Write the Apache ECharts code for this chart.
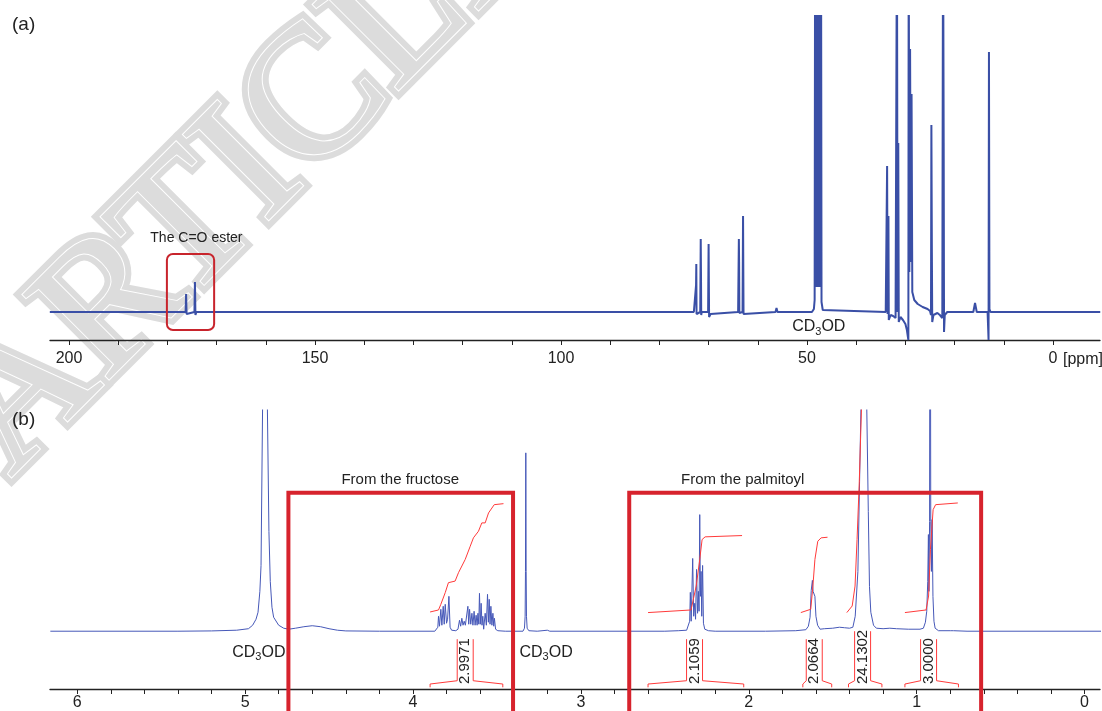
<!DOCTYPE html>
<html>
<head>
<meta charset="utf-8">
<script src="https://cdn.jsdelivr.net/npm/echarts@6.0.0/dist/echarts.min.js"></script>
<style>
  html, body { margin: 0; padding: 0; background: #fff; }
  #chart { width: 1102px; height: 711px; }
</style>
</head>
<body>
<div id="chart"></div>
<script>
// (a) 13C spectrum, [ppm, height above baseline]
const carbonSpectrum = [
  [203.9, 0], [180, 0], [176.3, 0], [176.2, 18], [176.1, -2], [175.9, 0],
  [174.5, 0], [174.4, 30], [174.3, -3], [174.1, 0],
  [100, 0], [73, 0], [72.6, 0], [72.55, 27], [72.5, 48], [72.45, -2], [72.3, 0],
  [71.7, 0], [71.6, 73], [71.55, 40], [71.5, -3], [71.4, 0],
  [70.1, 0], [70.0, 68], [69.9, -5], [69.6, -2], [69.3, 0],
  [64.0, 0], [63.85, 73], [63.8, 50], [63.75, -1], [63.1, 0], [63.0, 96], [62.9, -2], [62.7, 0],
  [56.4, 0], [56.2, 4], [56.0, 0],
  [49.0, 0], [48.6, 3], [48.45, 12], [48.35, 400], [48.25, 25], [48.15, 400], [48.05, 25], [47.95, 400],
  [47.85, 25], [47.75, 400], [47.65, 25], [47.55, 400], [47.45, 25], [47.35, 400], [47.25, 25],
  [47.15, 400], [47.05, 10], [46.8, 2], [46.5, 0],
  [34.0, 0], [33.8, -1], [33.72, 146], [33.62, -2], [33.5, 0], [33.45, 96], [33.38, -8],
  [33.0, -3], [32.5, -4], [32.0, -6], [31.8, -8], [31.72, 400], [31.6, 0], [31.45, 169], [31.35, -10],
  [31.0, -5], [30.5, -8], [30.0, -12], [29.7, -18], [29.4, -28], [29.33, 400], [29.2, 40],
  [29.05, 263], [28.9, 50], [28.75, 218], [28.6, 20], [28.2, 12], [27.5, 8], [26.5, 5], [25.5, 3],
  [25.0, 1], [24.8, -3], [24.72, 187], [24.62, 59], [24.55, -10], [24.3, -3], [23.5, -1],
  [23.0, -3], [22.5, -6], [22.35, 400], [22.22, 169], [22.15, -20], [22.0, -3], [21.5, 0],
  [16.2, 0], [15.85, 9], [15.5, 0],
  [13.3, 0], [13.1, -28], [13.02, 260], [12.92, 3], [12.7, 0], [-9.6, 0]
];

// (b) 1H spectrum, [ppm, height above baseline]
const protonSpectrum = [
  [6.16, 0], [5.40, 0], [5.20, 0.3], [5.05, 1], [4.98, 2.5], [4.955, 6], [4.935, 12], [4.923, 19],
  [4.912, 40], [4.905, 66], [4.896, 222], [4.882, 600], [4.867, 222], [4.858, 100], [4.850, 50],
  [4.840, 24], [4.830, 14], [4.800, 6], [4.770, 3], [4.740, 2], [4.700, 3], [4.650, 4.5],
  [4.600, 5.5], [4.550, 4.5], [4.500, 2.5], [4.450, 1], [4.400, 0.3], [4.200, 0], [3.870, 0],
  [3.862, 1], [3.852, 4], [3.848, 15], [3.842, 5], [3.834, 22], [3.828, 6], [3.820, 25], [3.814, 7],
  [3.808, 27], [3.800, 8], [3.794, 12], [3.786, 35], [3.779, 4], [3.770, 1], [3.745, 0.5],
  [3.732, 2], [3.723, 11], [3.716, 5], [3.709, 13], [3.702, 6], [3.695, 10], [3.688, 6], [3.680, 8],
  [3.673, 25], [3.668, 7], [3.663, 22], [3.656, 7], [3.649, 18], [3.643, 6], [3.636, 20], [3.630, 6],
  [3.624, 16], [3.618, 6], [3.613, 18], [3.608, 7],
  [3.604, 38], [3.599, 7], [3.594, 28], [3.589, 6], [3.584, 15], [3.579, 2], [3.575, 3],
  [3.570, 18], [3.563, 6], [3.556, 37], [3.551, 9], [3.546, 32], [3.541, 7], [3.536, 25], [3.530, 6],
  [3.524, 18], [3.519, 5], [3.515, 13], [3.508, 2], [3.495, 0.5], [3.45, 0],
  [3.345, 0], [3.336, 3], [3.332, 15], [3.330, 60], [3.328, 179], [3.326, 60], [3.324, 15],
  [3.320, 3], [3.310, 0.5], [3.260, 0], [3.200, 1], [3.185, 0],
  [2.500, 0], [2.420, 0.5], [2.370, 1], [2.360, 3], [2.352, 10], [2.348, 39], [2.343, 10],
  [2.334, 73], [2.328, 15], [2.322, 28], [2.317, 12], [2.311, 62], [2.305, 18], [2.300, 40],
  [2.296, 20], [2.292, 117], [2.288, 35], [2.284, 60], [2.280, 15], [2.275, 66], [2.270, 8],
  [2.262, 2], [2.240, 0.5], [2.200, 0], [1.900, 0], [1.720, 0.5], [1.660, 1.5], [1.645, 5],
  [1.635, 14], [1.628, 41], [1.621, 51], [1.617, 40], [1.612, 38], [1.606, 35], [1.600, 15],
  [1.590, 6], [1.575, 2], [1.550, 2.5], [1.500, 3], [1.460, 4], [1.430, 3.5], [1.400, 3],
  [1.380, 4], [1.366, 15], [1.350, 60], [1.340, 150], [1.332, 222], [1.315, 700], [1.297, 222],
  [1.288, 120], [1.281, 45], [1.273, 19], [1.257, 6], [1.240, 3], [1.200, 2.5], [1.160, 3],
  [1.120, 2.5], [1.050, 2], [0.980, 2], [0.960, 3], [0.948, 9], [0.940, 20], [0.934, 50],
  [0.930, 97], [0.927, 40], [0.923, 110], [0.920, 600], [0.916, 110], [0.912, 60], [0.908, 112],
  [0.903, 35], [0.897, 10], [0.890, 3], [0.870, 0.5], [0.800, 0.5], [0.790, 2], [0.780, 0.5],
  [0.700, 0], [-0.10, 0]
];

// integral curves (red)
const intFructose = [[3.898, 19.3], [3.848, 21.3], [3.834, 27], [3.808, 38.7], [3.789, 48.7], [3.749, 50.3],
  [3.729, 58.7], [3.689, 72], [3.659, 85.3], [3.640, 93.7], [3.610, 100.3], [3.590, 108.7],
  [3.570, 108.7], [3.550, 118.7], [3.516, 127], [3.461, 128]];
const intCH2CO = [[2.600, 18.7], [2.344, 21.3], [2.313, 45.3], [2.292, 72], [2.278, 92], [2.260, 94.7], [2.040, 96]];
const intCH2b = [[1.690, 18.7], [1.631, 22], [1.618, 45.3], [1.606, 72], [1.589, 90.3], [1.569, 93.7], [1.531, 94.3]];
const intChain = [[1.416, 18.7], [1.384, 25.3], [1.367, 45.3], [1.355, 92], [1.342, 148.7], [1.329, 222], [1.310, 400]];
const intMethyl = [[1.070, 18.7], [0.944, 21.3], [0.929, 35.3], [0.918, 82], [0.902, 122], [0.887, 127], [0.755, 128.7]];

const integralValues = ['2.9971', '2.1059', '2.0664', '24.1302', '3.0000'];
const integralRanges = [[3.898, 3.465], [2.600, 2.030], [1.678, 1.506], [1.406, 1.207], [1.070, 0.751]];
const integralLabelAt = [3.689, 2.323, 1.610, 1.322, 0.929];

// axes
const carbonTicks = [0, 10, 20, 30, 40, 50, 60, 70, 80, 90, 100, 110, 120, 130, 140, 150, 160, 170, 180, 190, 200];
const carbonLabels = [200, 150, 100, 50, 0];
const protonTicks = [0, 0.2, 0.4, 0.6, 0.8, 1, 1.2, 1.4, 1.6, 1.8, 2, 2.2, 2.4, 2.6, 2.8, 3, 3.2, 3.4, 3.6,
  3.8, 4, 4.2, 4.4, 4.6, 4.8, 5, 5.2, 5.4, 5.6, 5.8, 6];
const protonLabels = [6, 5, 4, 3, 2, 1, 0];

// highlighted regions
const esterBox = [180.1, 170.5];
const fructoseBox = [4.742, 3.404];
const palmitoylBox = [2.712, 0.616];

const FONT = '"Liberation Sans", Arial, sans-serif';
const BLUE = '#3a4fa6';
const RED = '#d7232d';
const IRED = '#ff3a3a';

const chart = echarts.init(document.getElementById('chart'));

function axisX(gridIndex, min, max, ticks, labels, margin) {
  return {
    type: 'value', gridIndex: gridIndex, inverse: true, min: min, max: max,
    axisLine: { onZero: false, lineStyle: { color: '#222', width: 1.3 } },
    axisTick: { show: true, inside: false, length: 5, customValues: ticks, lineStyle: { color: '#222' } },
    axisLabel: { customValues: labels, margin: margin, color: '#222', fontSize: 16, fontFamily: FONT,
      formatter: v => String(v) },
    splitLine: { show: false }
  };
}

const brackets = [];
integralValues.forEach((val, i) => {
  const r = integralRanges[i], c = integralLabelAt[i], g = 0.0476;
  const top = -56 + 8 * val.length;
  brackets.push({
    type: 'line', xAxisIndex: 1, yAxisIndex: 1, clip: false, showSymbol: false, silent: true,
    lineStyle: { color: IRED, width: 1 },
    data: [[r[0], -56.3], [r[0], -53], [c + g, -49.7], [c + g, top]]
  });
  brackets.push({
    type: 'line', xAxisIndex: 1, yAxisIndex: 1, clip: false, showSymbol: false, silent: true,
    lineStyle: { color: IRED, width: 1 },
    data: [[c - g, top], [c - g, -49.7], [r[1], -53], [r[1], -56.3]]
  });
});

function integralSeries(curve) {
  return { type: 'line', xAxisIndex: 1, yAxisIndex: 1, showSymbol: false, silent: true,
    lineStyle: { color: IRED, width: 1 }, data: curve, z: 3 };
}
function boxSeries(b) {
  return { type: 'line', xAxisIndex: 1, yAxisIndex: 1, clip: false, showSymbol: false, silent: true,
    lineStyle: { color: RED, width: 4, join: 'miter', cap: 'butt' }, z: 4,
    data: [[b[0], -90], [b[0], 139], [b[1], 139], [b[1], -90]] };
}

const option = {
  animation: false,
  backgroundColor: '#fff',
  grid: [
    { left: 50, right: 2, top: 16, height: 324 },
    { left: 50, right: 2, top: 410, height: 280 }
  ],
  xAxis: [
    axisX(0, -9.55, 203.86, carbonTicks, carbonLabels, 11),
    axisX(1, -0.092, 6.162, protonTicks, protonLabels, 6)
  ],
  yAxis: [
    { type: 'value', gridIndex: 0, min: -28, max: 296, show: false },
    { type: 'value', gridIndex: 1, min: -58, max: 222, show: false }
  ],
  series: [
    { type: 'line', xAxisIndex: 0, yAxisIndex: 0, showSymbol: false, silent: true,
      lineStyle: { color: BLUE, width: 2 }, data: carbonSpectrum },
    { type: 'line', xAxisIndex: 1, yAxisIndex: 1, showSymbol: false, silent: true,
      lineStyle: { color: '#4658b8', width: 1 }, data: protonSpectrum },
    integralSeries(intFructose), integralSeries(intCH2CO), integralSeries(intCH2b),
    integralSeries(intChain), integralSeries(intMethyl),
    boxSeries(fructoseBox), boxSeries(palmitoylBox)
  ].concat(brackets)
};
chart.setOption(option);

// annotations placed from data coordinates
const px = (g, p) => chart.convertToPixel({ gridIndex: g }, p);
const measure = document.createElement('canvas').getContext('2d');
function textW(t, size) { measure.font = size + 'px ' + FONT; return measure.measureText(t).width; }

function label(text, p, size, align) {
  return { type: 'text', x: p[0], y: p[1], z: 10, silent: true,
    style: { text: text, fontSize: size, fontFamily: FONT, fill: '#222',
      align: align || 'center', verticalAlign: 'middle' } };
}
function cd3od(p) {
  const w1 = textW('CD', 16), w2 = textW('3', 11), w3 = textW('OD', 16);
  const left = p[0] - (w1 + w2 + w3) / 2;
  return [
    label('CD', [left, p[1]], 16, 'left'),
    label('3', [left + w1, p[1] + 5], 11, 'left'),
    label('OD', [left + w1 + w2, p[1]], 16, 'left')
  ];
}

const g = [];
// faint watermark behind the plot
const wm = { type: 'text', x: 248, y: 172, rotation: Math.PI / 4, z: -10, silent: true };
g.push(Object.assign({}, wm, { style: { text: 'ARTICLE', font: '185px "Liberation Serif"', fill: '#dcdcdc',
  stroke: '#dcdcdc', lineWidth: 14, align: 'center', verticalAlign: 'middle' } }));
g.push(Object.assign({}, wm, { z: -9, style: { text: 'ARTICLE', font: '185px "Liberation Serif"', fill: '#dcdcdc',
  stroke: '#ffffff', lineWidth: 2, align: 'center', verticalAlign: 'middle' } }));

const a = px(0, [esterBox[0], 58]), b = px(0, [esterBox[1], -18]);
g.push({ type: 'rect', z: 10, silent: true, shape: { x: a[0], y: a[1], width: b[0] - a[0], height: b[1] - a[1], r: 6 },
  style: { fill: 'none', stroke: '#c8242c', lineWidth: 2 } });
g.push(label('The C=O ester', px(0, [174.1, 74.3]), 14));
cd3od(px(0, [47.6, -14.7])).forEach(e => g.push(e));
const zero = px(0, [0, -28]);
g.push(label('[ppm]', [zero[0] + 10, zero[1] + 20], 16, 'left'));

g.push(label('From the fructose', px(1, [4.076, 152]), 15));
g.push(label('From the palmitoyl', px(1, [2.036, 152]), 15));
cd3od(px(1, [4.918, -21.3])).forEach(e => g.push(e));
cd3od(px(1, [3.207, -21.3])).forEach(e => g.push(e));

integralValues.forEach((val, i) => {
  const p = px(1, [integralLabelAt[i], -53]);
  g.push({ type: 'text', x: p[0], y: p[1], rotation: Math.PI / 2, z: 10, silent: true,
    style: { text: val, fontSize: 15, fontFamily: FONT, fill: '#222', align: 'left', verticalAlign: 'middle' } });
});

g.push(label('(a)', [12, 25], 19, 'left'));
g.push(label('(b)', [12, 420], 19, 'left'));

chart.setOption({ graphic: g });
</script>
</body>
</html>
